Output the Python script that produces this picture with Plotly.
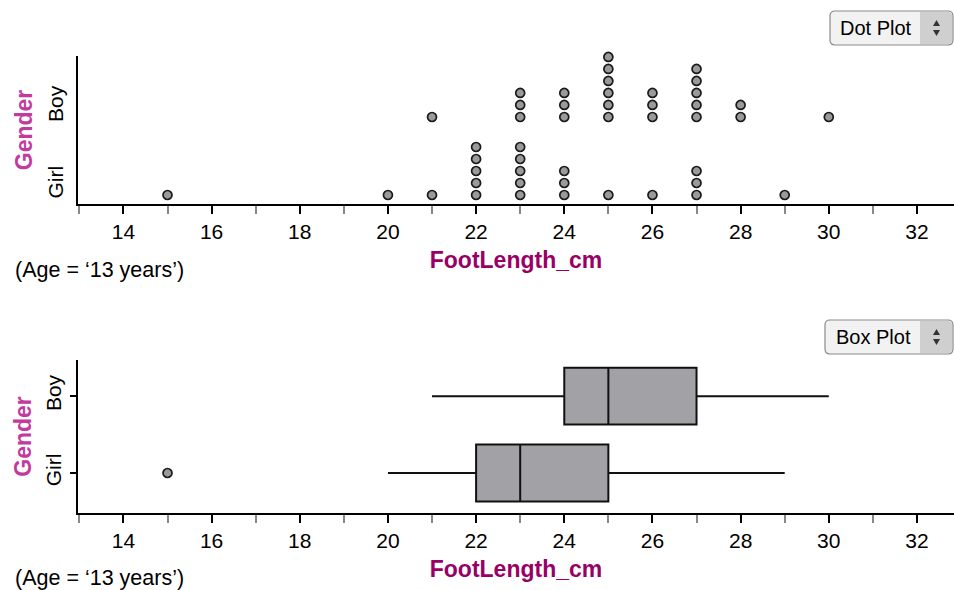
import plotly.graph_objects as go
from collections import Counter

# ---------------- data ----------------
boy_foot = [21, 23, 23, 23, 24, 24, 24, 25, 25, 25, 25, 25, 25,
            26, 26, 26, 27, 27, 27, 27, 27, 28, 28, 30]
girl_foot = [15, 20, 21, 22, 22, 22, 22, 22, 23, 23, 23, 23, 23,
             24, 24, 24, 25, 26, 27, 27, 27, 29]
gender_order = ["Girl", "Boy"]
x_tick_vals = [14, 16, 18, 20, 22, 24, 26, 28, 30, 32]
x_minor_vals = [13, 15, 17, 19, 21, 23, 25, 27, 29, 31]
x_title = "FootLength_cm"
y_title = "Gender"
filter_note = "(Age = \u201813 years\u2019)"

# ---------------- layout helpers ----------------
W, H = 954, 590
FONT = "Liberation Sans, Arial, sans-serif"


def px(x):
    return x / W


def py(y):
    return 1 - y / H


# stacking base for each row of the dot plot (layout, in dot units)
row_base = {"Girl": 0.0, "Boy": 6.5}


def stack(values, base):
    seen = Counter()
    xs, ys = [], []
    for v in values:
        xs.append(v)
        ys.append(base + seen[v])
        seen[v] += 1
    return xs, ys


dot_marker = dict(size=9, color="#9a9a9a", line=dict(color="#1a1a1a", width=1.7))

fig = go.Figure()

for name, vals in (("Girl", girl_foot), ("Boy", boy_foot)):
    xs, ys = stack(vals, row_base[name])
    fig.add_trace(go.Scatter(x=xs, y=ys, mode="markers", marker=dot_marker,
                             name=name, xaxis="x", yaxis="y", cliponaxis=False,
                             showlegend=False, hoverinfo="x"))

for name, vals in (("Girl", girl_foot), ("Boy", boy_foot)):
    fig.add_trace(go.Box(x=vals, y=[name] * len(vals), orientation="h",
                         name=name, xaxis="x2", yaxis="y2",
                         quartilemethod="exclusive", boxpoints="outliers",
                         fillcolor="#a2a1a6", line=dict(color="#111", width=2),
                         whiskerwidth=0, width=0.74,
                         marker=dot_marker, showlegend=False))

tickfont = dict(family=FONT, size=21, color="#000")
titlefont_x = dict(family=FONT, size=23, color="#990066", weight="bold")
titlefont_y = dict(family=FONT, size=23, color="#c23a9e", weight="bold")

xcommon = dict(range=[12.97, 32.84], tickvals=x_tick_vals, ticks="outside",
               ticklen=8, tickwidth=2, tickcolor="#000", showline=True,
               linewidth=2, linecolor="#000", showgrid=False, zeroline=False,
               tickfont=tickfont, domain=[px(78), 1],
               minor=dict(tickvals=x_minor_vals, ticks="outside", ticklen=8,
                          tickwidth=2, tickcolor="#888", showgrid=False),
               title=dict(text=x_title, font=titlefont_x, standoff=10))

fig.update_layout(
    width=W, height=H,
    margin=dict(l=0, r=0, t=0, b=0),
    paper_bgcolor="white", plot_bgcolor="white",
    xaxis=dict(anchor="y", **xcommon),
    yaxis=dict(domain=[py(204), py(56)], range=[-0.75, 11.58],
               tickvals=[0.8, 7.33], ticktext=gender_order, tickangle=-90,
               ticks="", ticklabelstandoff=5, showline=True, linewidth=2,
               linecolor="#000", showgrid=False, zeroline=False,
               tickfont=tickfont,
               title=dict(text=y_title, font=titlefont_y, standoff=5)),
    xaxis2=dict(anchor="y2", **xcommon),
    yaxis2=dict(domain=[py(513), py(360)], range=[-0.52, 1.47],
                type="category", categoryorder="array",
                categoryarray=gender_order, tickangle=-90, ticks="outside",
                ticklen=6, tickwidth=2, tickcolor="#000", ticklabelstandoff=1,
                showline=True, linewidth=2, linecolor="#000",
                showgrid=False, zeroline=False, tickfont=tickfont,
                title=dict(text=y_title, font=titlefont_y, standoff=4)),
)

# filter notes
for yy in (270, 578):
    fig.add_annotation(text=filter_note, x=px(13), y=py(yy), xref="paper",
                       yref="paper", xanchor="left", yanchor="middle",
                       showarrow=False, font=dict(family=FONT, size=21.5,
                                                  color="#000"))


# pop-up menu buttons (drawn)
def rounded_rect(x0, y0, x1, y1, r):
    return (f"M {px(x0 + r)} {py(y0)} L {px(x1 - r)} {py(y0)} "
            f"Q {px(x1)} {py(y0)} {px(x1)} {py(y0 + r)} "
            f"L {px(x1)} {py(y1 - r)} Q {px(x1)} {py(y1)} {px(x1 - r)} {py(y1)} "
            f"L {px(x0 + r)} {py(y1)} Q {px(x0)} {py(y1)} {px(x0)} {py(y1 - r)} "
            f"L {px(x0)} {py(y0 + r)} Q {px(x0)} {py(y0)} {px(x0 + r)} {py(y0)} Z")


def add_button(label, x0, y0, x1, y1, split):
    fig.add_shape(type="path", xref="paper", yref="paper",
                  path=rounded_rect(x0, y0, x1, y1, 5),
                  fillcolor="#f2f2f2", line=dict(color="#8a8a8a", width=1.2))
    fig.add_shape(type="path", xref="paper", yref="paper",
                  path=(f"M {px(split)} {py(y0 + 1)} L {px(x1 - 5)} {py(y0 + 1)} "
                        f"Q {px(x1 - 1)} {py(y0 + 1)} {px(x1 - 1)} {py(y0 + 5)} "
                        f"L {px(x1 - 1)} {py(y1 - 5)} Q {px(x1 - 1)} {py(y1 - 1)} "
                        f"{px(x1 - 5)} {py(y1 - 1)} L {px(split)} {py(y1 - 1)} Z"),
                  fillcolor="#cfcfcf", line=dict(width=0))
    cx = (split + x1) / 2
    cy = (y0 + y1) / 2
    fig.add_shape(type="path", xref="paper", yref="paper",
                  path=(f"M {px(cx - 3.5)} {py(cy - 2)} L {px(cx + 3.5)} {py(cy - 2)} "
                        f"L {px(cx)} {py(cy - 8)} Z"),
                  fillcolor="#333", line=dict(width=0))
    fig.add_shape(type="path", xref="paper", yref="paper",
                  path=(f"M {px(cx - 3.5)} {py(cy + 2)} L {px(cx + 3.5)} {py(cy + 2)} "
                        f"L {px(cx)} {py(cy + 8)} Z"),
                  fillcolor="#333", line=dict(width=0))
    fig.add_annotation(text=label, x=px((x0 + split) / 2 + 1), y=py(cy),
                       xref="paper", yref="paper", showarrow=False,
                       xanchor="center", yanchor="middle",
                       font=dict(family=FONT, size=20, color="#000"))


add_button("Dot Plot", 830, 11, 953, 45, 920)
add_button("Box Plot", 825, 320, 953, 354, 920)

fig.write_html(
    "out.html",
    config={"displayModeBar": False},
    post_script="document.body.style.margin='0';"
                "document.body.style.overflow='hidden';",
)
